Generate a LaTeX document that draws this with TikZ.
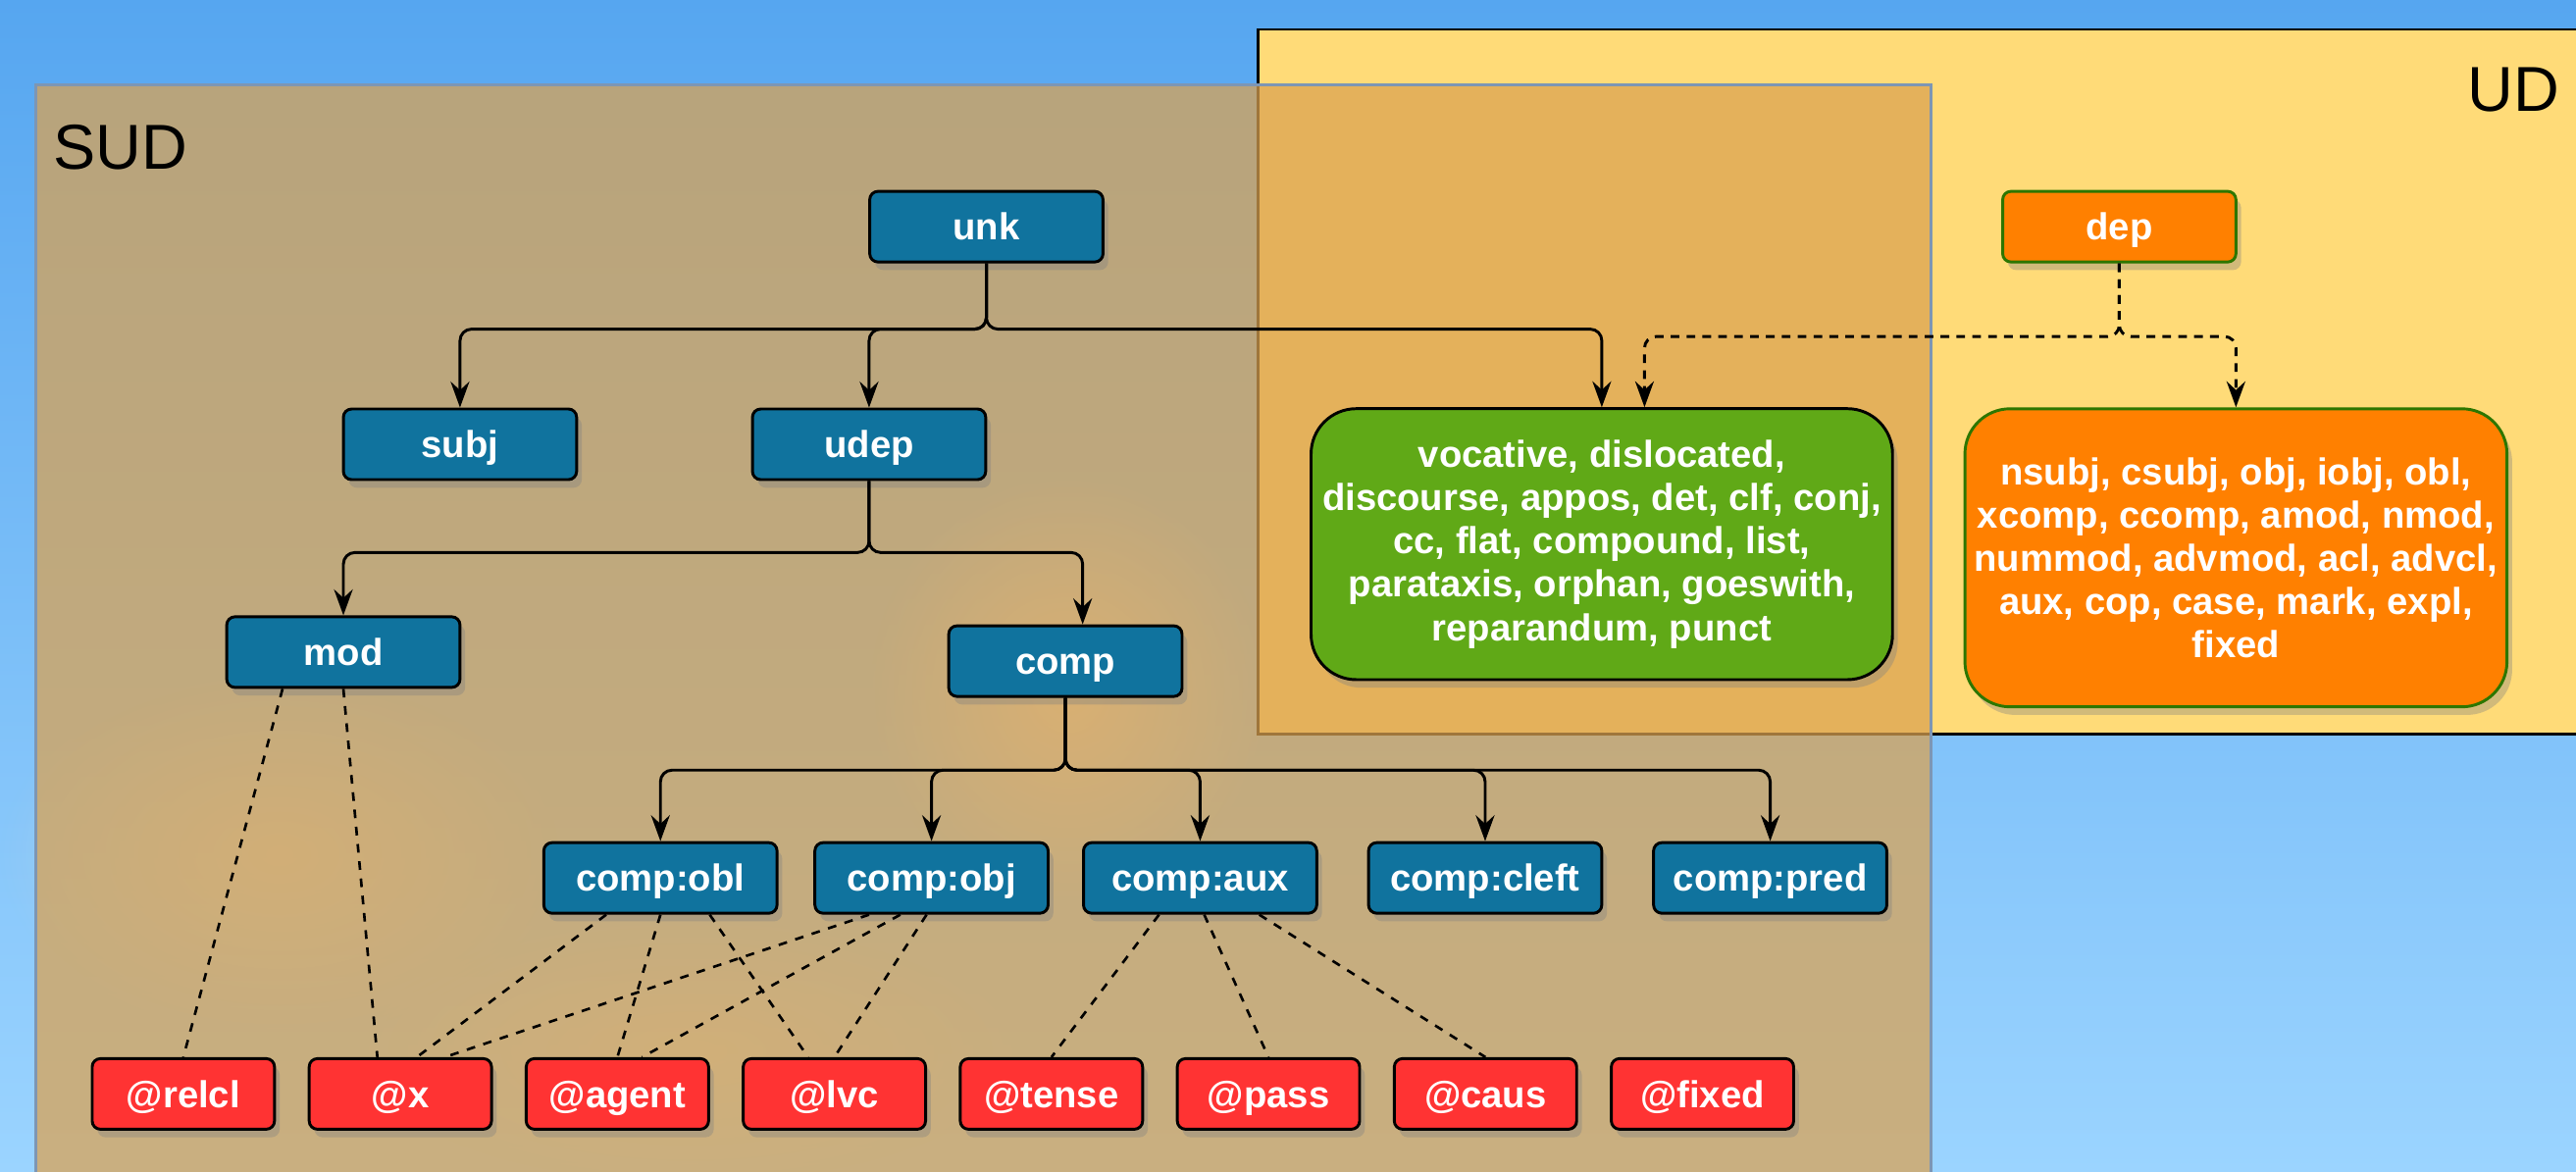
\documentclass[tikz,border=0pt]{standalone}
\usepackage{fontspec}
\setmainfont{Liberation Sans}
\usetikzlibrary{positioning,calc,shadows,arrows.meta,fadings}
\definecolor{sudblue}{HTML}{10739E}
\definecolor{atred}{HTML}{FF3333}
\definecolor{udgreen}{HTML}{60A917}
\definecolor{udorange}{HTML}{FF8000}
\definecolor{udborder}{HTML}{2D7600}
\definecolor{udyellow}{RGB}{255,219,120}
\definecolor{sudtan}{RGB}{219,162,81}
\definecolor{sudedge}{RGB}{125,150,180}
\definecolor{skytop}{RGB}{86,166,240}
\definecolor{skybottom}{RGB}{155,212,255}
\definecolor{cloud}{RGB}{235,220,195}
\tikzfading[name=cloudfade,inner color=transparent!0,outer color=transparent!100]

\begin{document}
\begin{tikzpicture}[x=0.02cm,y=-0.02cm,
    every node/.style={font=\fontsize{13}{15}\selectfont\bfseries,text=white},
    box/.style={draw,line width=1pt,rounded corners=0.1cm,inner sep=2pt,
      drop shadow={shadow xshift=1.8pt,shadow yshift=-2.8pt,opacity=0.36}},
    smallbox/.style={box,text height=9.4pt,text depth=0pt,minimum height=0.86cm},
    sudnode/.style={smallbox,fill=sudblue,minimum width=2.84cm},
    atnode/.style={smallbox,fill=atred,minimum width=2.22cm},
    depnode/.style={smallbox,draw=udborder,fill=udorange,minimum width=2.84cm},
    bigbox/.style={box,rounded corners=0.55cm,align=center},
    setlabel/.style={anchor=base west,inner sep=0,text=black,font=\fontsize{22}{26}\selectfont},
    tree/.style={line width=1pt,rounded corners=4pt,-{Stealth[length=9pt,width=6.5pt,inset=3pt]}},
    deptree/.style={tree,dash pattern=on 3pt off 2.5pt},
    link/.style={line width=0.9pt,dash pattern=on 3pt off 3pt}
  ]
  \useasboundingbox (0,0) rectangle (1568,713);
  \clip (0,0) rectangle (1568,713);

  % the sky
  \shade[top color=skytop,bottom color=skybottom] (0,0) rectangle (1568,713);
  \fill[cloud,path fading=cloudfade,opacity=0.8] (650,420) ellipse (120 and 130);
  \fill[cloud,path fading=cloudfade,opacity=0.5] (170,520) ellipse (170 and 110);
  \fill[cloud,path fading=cloudfade,opacity=0.4] (420,640) ellipse (200 and 80);

  % the set UD
  \draw[fill=udyellow,line width=1pt] (765.8,17.9) rectangle (1590,446.9);
  % the set SUD
  \draw[fill=sudtan,fill opacity=0.73,draw=sudedge,line width=1pt] (22,51.5) rectangle (1175.5,740);

  \node[setlabel] (sudlabel) at (32,103) {SUD};
  \node[setlabel] (udlabel) at (1501.8,67.5) {UD};

  % the SUD relations
  \node[sudnode] (unk) at (600.4,138) {unk};
  \node[sudnode] (subj) at (280,270.5) {subj};
  \node[sudnode] (udep) at (529,270.5) {udep};
  \node[sudnode] (mod) at (209,397) {mod};
  \node[sudnode] (comp) at (648.5,402.5) {comp};
  \foreach \r/\x in {obl/402,obj/567,aux/730.5,cleft/904,pred/1077.5}
    \node[sudnode] (c\r) at (\x,534.5) {comp:\r};

  % the features
  \foreach \f [count=\i from 0] in {relcl,x,agent,lvc,tense,pass,caus,fixed}
    \node[atnode] (at\f) at (111.6+132.1*\i,666) {@\f};

  % the UD relations
  \node[depnode] (dep) at (1290,138) {dep};
  \node[bigbox,fill=udgreen,minimum width=7.08cm,minimum height=3.3cm] (common) at (975,331.3)
    {vocative, dislocated,\\discourse, appos, det, clf, conj,\\cc, flat, compound, list,\\parataxis, orphan, goeswith,\\reparandum, punct};
  \node[bigbox,draw=udborder,fill=udorange,minimum width=6.6cm,minimum height=3.63cm] (udrels) at (1361,339.6)
    {nsubj, csubj, obj, iobj, obl,\\xcomp, ccomp, amod, nmod,\\nummod, advmod, acl, advcl,\\aux, cop, case, mark, expl,\\fixed};

  % the edges
  \draw[tree] (unk.south) -- ++(0,40) -| (subj.north);
  \draw[tree] (unk.south) -- ++(0,40) -| (udep.north);
  \draw[tree] (unk.south) -- ++(0,40) -| (common.north);
  \draw[tree] (udep.south) -- ++(0,43.5) -| (mod.north);
  \draw[tree] (udep.south) -- ++(0,43.5) -| ($(comp.north)+(10.5,0)$);
  \foreach \r in {obl,obj,aux,cleft,pred}
    \draw[tree] (comp.south) -- ++(0,44) -| (c\r.north);
  \draw[deptree] (dep.south) -- ++(0,44.5) -| ($(common.north)+(26,0)$);
  \draw[deptree] (dep.south) -- ++(0,44.5) -| (udrels.north);

  % the feature links
  \foreach \a/\da/\b/\db in {mod/-37/relcl/0,mod/0/x/-14,cobl/-33/x/10,cobl/0/agent/0,
      cobl/30/lvc/-16,cobj/-38/x/27,cobj/-19/agent/15,cobj/-3/lvc/0,
      caux/-25/tense/0,caux/2.5/pass/0,caux/36/caus/0}
    \draw[link] ($(\a.south)+(\da,0)$) -- ($(at\b.north)+(\db,0)$);
\end{tikzpicture}
\end{document}
